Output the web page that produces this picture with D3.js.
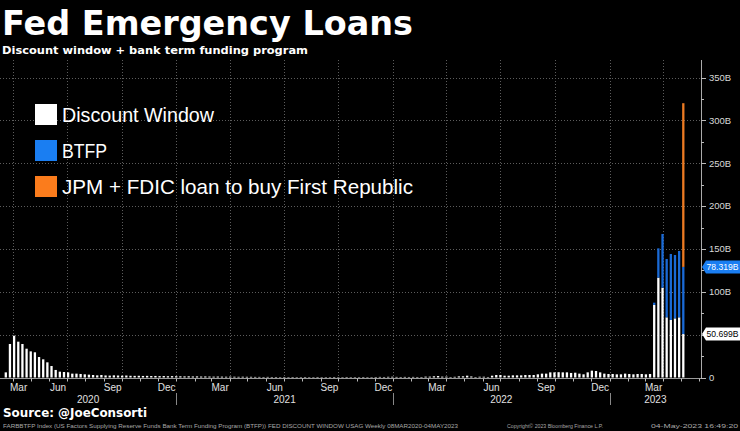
<!DOCTYPE html>
<html><head><meta charset="utf-8">
<script src="https://cdn.jsdelivr.net/npm/d3@7"></script>
<style>html,body{margin:0;padding:0;background:#000;} svg{display:block}</style>
</head><body><svg id="c" width="740" height="431"></svg>
<script>
// ---------- data ----------
const firstWeek = "2020-03-20"; // first weekly bar (weeks follow every 7 days)
const discountWindow = [
  6.0, 39.1, 48.8, 41.8, 39.1, 33.6, 30.5, 29.4, 23.9, 21.2, 17.7, 13.4, 8.8, 6.8, 6.4, 6.0, 4.5,
  4.5, 4.1, 3.7, 3.3, 2.9, 2.5, 2.9, 2.4, 2.2, 2.5, 2.3, 2.1, 2.3, 2.0,
  1.9, 2.0, 1.8, 1.9, 1.7, 1.8, 1.6, 1.7, 1.5, 1.6, 1.5,
  1.4, 1.3, 1.4, 1.2, 1.3, 1.1, 1.2, 1.1, 1.0, 1.1, 1.0, 0.9, 1.0, 0.9, 0.8, 0.9, 0.8, 0.8, 0.7,
  0.7, 0.6, 0.7, 0.6, 0.6, 0.5, 0.6, 0.5, 0.6, 0.5, 0.5, 0.6, 0.5, 0.5, 0.6, 0.5, 0.5, 0.5, 0.6, 0.5,
  0.5, 0.6, 0.5, 0.5, 0.5, 0.6, 0.5, 0.5, 0.6, 0.7, 0.6, 0.8, 0.9, 0.7, 0.6, 0.7, 0.6, 0.7, 0.6,
  0.6, 1.0, 1.0, 1.4, 1.7, 1.0, 1.0, 0.6, 0.8, 1.3, 1.4, 2.1, 1.2, 0.6, 0.9, 0.9, 0.6, 2.1, 2.9, 2.9,
  2.1, 2.1, 2.5, 2.5, 2.5, 2.9, 2.9, 2.9, 3.7, 4.5, 4.5, 6.0, 6.0, 6.2, 6.0, 6.0, 5.3, 5.6, 4.5, 3.7,
  6.0, 8.0, 7.6, 6.0, 4.5, 4.1, 4.1, 3.7, 3.7, 4.5, 4.1, 3.7, 4.1, 4.1, 3.7, 4.1,
  84.6, 116.5, 104.8, 70.2, 67.1, 69.0, 70.2, 50.699
];
const btfpWeeks = ["2023-03-17","2023-03-24","2023-03-31","2023-04-07","2023-04-14","2023-04-21","2023-04-28","2023-05-05"];
const btfp = [2.7, 34.2, 62.6, 68.1, 77.0, 73.9, 77.4, 78.319];
const frcWeeks = ["2023-05-05"];
const frcLoan = [191];
const yTicks = [0, 50, 100, 150, 200, 250, 300, 350];
const yTickLabels = ["0", "50B", "100B", "150B", "200B", "250B", "300B", "350B"];
const quarterMonths = ["Mar", "Jun", "Sep", "Dec"];
const years = [2020, 2021, 2022, 2023];
const legendLabels = ["Discount Window", "BTFP", "JPM + FDIC loan to buy First Republic"];
const colors = {dw: "#ffffff", btfp: "#1a6ad6", frc: "#ec7a22", legBtfp: "#1a7ef2", legFrc: "#fb7c1c"};

// ---------- setup ----------
const svg = d3.select("#c");
const W = 740, H = 431;
svg.append("rect").attr("width", W).attr("height", H).attr("fill", "#000");
const parse = d3.utcParse("%Y-%m-%d");
const plotL = 0, plotR = 701, plotT = 60, base = 377.5;

const x = d3.scaleUtc().domain([parse("2020-03-20"), parse("2023-05-05")]).range([5.8, 683.3]);
const y = d3.scaleLinear().domain([0, 350]).range([base, 77.5]);
const xStart = x.invert(plotL), xEnd = x.invert(plotR);

// ---------- grid ----------
const grid = svg.append("g").attr("stroke", "#5c5c5c").attr("stroke-dasharray", "1,2").attr("stroke-width", 1);
yTicks.filter(v => v > 0).forEach(v => {
  grid.append("line").attr("x1", plotL).attr("x2", plotR).attr("y1", Math.round(y(v)) + 0.5).attr("y2", Math.round(y(v)) + 0.5);
});
d3.utcMonth.range(xStart, xEnd).filter(d => d.getUTCMonth() % 3 === 0).forEach(d => {
  const xx = Math.round(x(d)) + 0.5;
  grid.append("line").attr("x1", xx).attr("x2", xx).attr("y1", plotT).attr("y2", base);
});

// ---------- bars ----------
const weeks = discountWindow.map((v, i) => d3.utcDay.offset(parse(firstWeek), 7 * i));
const bw = 2.3;
const gBars = svg.append("g");
gBars.selectAll("rect.dw").data(discountWindow).join("rect")
  .attr("x", (d, i) => x(weeks[i]) - bw / 2).attr("width", bw)
  .attr("y", d => y(d)).attr("height", d => base - y(d)).attr("fill", colors.dw);
const dwByDate = new Map(weeks.map((w, i) => [+w, discountWindow[i]]));
const btfpBase = btfpWeeks.map(s => dwByDate.get(+parse(s)) || 0);
gBars.selectAll("rect.bt").data(btfp).join("rect")
  .attr("x", (d, i) => x(parse(btfpWeeks[i])) - bw / 2).attr("width", bw)
  .attr("y", (d, i) => y(btfpBase[i] + d)).attr("height", (d, i) => y(btfpBase[i]) - y(btfpBase[i] + d))
  .attr("fill", colors.btfp);
const btByDate = new Map(btfpWeeks.map((s, i) => [+parse(s), btfp[i]]));
gBars.selectAll("rect.fr").data(frcLoan).join("rect")
  .attr("x", (d, i) => x(parse(frcWeeks[i])) - bw / 2).attr("width", bw)
  .attr("y", (d, i) => { const b = dwByDate.get(+parse(frcWeeks[i])) + btByDate.get(+parse(frcWeeks[i])); return y(b + d); })
  .attr("height", (d, i) => { const b = dwByDate.get(+parse(frcWeeks[i])) + btByDate.get(+parse(frcWeeks[i])); return y(b) - y(b + d); })
  .attr("fill", colors.frc);

// ---------- right axis ----------
const ax = svg.append("g");
ax.append("line").attr("x1", plotR + 0.5).attr("x2", plotR + 0.5).attr("y1", plotT).attr("y2", base + 1).attr("stroke", "#aaa");
d3.range(0, 351, 25).forEach(v => {
  const major = v % 50 === 0;
  ax.append("line").attr("x1", plotR).attr("x2", plotR + (major ? 5 : 3))
    .attr("y1", Math.round(y(v)) + 0.5).attr("y2", Math.round(y(v)) + 0.5).attr("stroke", "#bbb");
});
const lastI = btfp.length - 1;
const lastDw = discountWindow[discountWindow.length - 1];
const tagVals = [lastDw + btfp[lastI], lastDw];
yTicks.forEach((v, i) => {
  if (tagVals.some(t => Math.abs(y(t) - y(v)) < 11)) return; // hidden under a value tag
  ax.append("text").attr("x", plotR + 8).attr("y", y(v)).attr("dy", "0.35em")
    .attr("fill", "#d8d8d8").attr("font-family", "Liberation Sans, Arial, sans-serif").attr("font-size", 9.5)
    .text(yTickLabels[i]);
});

// last value tags
function tag(val, label, fill, txt) {
  const cy = y(val);
  ax.append("path").attr("d", `M${plotR + 1},${cy} L${plotR + 5},${cy - 6.5} L${W},${cy - 6.5} L${W},${cy + 6.5} L${plotR + 5},${cy + 6.5} Z`)
    .attr("fill", fill);
  ax.append("text").attr("x", plotR + 5.5).attr("y", cy).attr("dy", "0.36em").attr("fill", txt)
    .attr("font-family", "Liberation Sans, Arial, sans-serif").attr("font-size", 9)
    .attr("textLength", 32).attr("lengthAdjust", "spacingAndGlyphs").text(label);
}
tag(tagVals[0], d3.format(".3f")(btfp[lastI]) + "B", "#1a7ef2", "#fff");
tag(tagVals[1], d3.format(".3f")(lastDw) + "B", "#fff", "#000");

// ---------- bottom axis ----------
const bx = svg.append("g").attr("font-family", "Liberation Sans, Arial, sans-serif");
bx.append("line").attr("x1", plotL).attr("x2", plotR).attr("y1", base + 1).attr("y2", base + 1).attr("stroke", "#9a9a9a");
d3.utcMonth.range(d3.utcMonth.ceil(xStart), xEnd).forEach(d => {
  const xx = Math.round(x(d)) + 0.5;
  bx.append("line").attr("x1", xx).attr("x2", xx).attr("y1", base + 1).attr("y2", base + 4).attr("stroke", "#bbb");
});
d3.utcMonth.range(d3.utcMonth.floor(xStart), xEnd).filter(d => d.getUTCMonth() % 3 === 2).forEach(d => {
  let cx = x(d3.utcDay.offset(d, 15));
  if (cx > plotR - 12) return;
  const t = bx.append("text").attr("y", 391).attr("fill", "#e0e0e0").attr("font-size", 10)
    .text(quarterMonths[(d.getUTCMonth() - 2) / 3]);
  if (cx < 18) t.attr("x", 10).attr("text-anchor", "start");
  else t.attr("x", cx).attr("text-anchor", "middle");
});
years.forEach(yr => {
  const a = Math.max(plotL, x(Date.UTC(yr, 0, 1)));
  const b = Math.min(plotR, x(Date.UTC(yr + 1, 0, 1)));
  bx.append("text").attr("x", (a + b) / 2).attr("y", 403).attr("text-anchor", "middle")
    .attr("fill", "#e0e0e0").attr("font-size", 10).text(yr);
  if (yr > 2020) {
    const xx = Math.round(x(Date.UTC(yr, 0, 1))) + 0.5;
    bx.append("line").attr("x1", xx).attr("x2", xx).attr("y1", 393).attr("y2", 405).attr("stroke", "#888");
  }
});

// ---------- titles ----------
svg.append("text").attr("x", 2).attr("y", 35).attr("fill", "#fff")
  .attr("font-family", "DejaVu Sans, Verdana, sans-serif").attr("font-weight", "bold").attr("font-size", 34)
  .attr("textLength", 411).attr("lengthAdjust", "spacingAndGlyphs").text("Fed Emergency Loans");
svg.append("text").attr("x", 2).attr("y", 54).attr("fill", "#fff")
  .attr("font-family", "DejaVu Sans, Verdana, sans-serif").attr("font-weight", "bold").attr("font-size", 11)
  .attr("textLength", 306).attr("lengthAdjust", "spacingAndGlyphs").text("Discount window + bank term funding program");

// ---------- legend ----------
const legColors = [colors.dw, colors.legBtfp, colors.legFrc];
const legW = [152, 45, 351];
legendLabels.forEach((l, i) => {
  const ty = 104 + i * 36;
  svg.append("rect").attr("x", 35).attr("y", ty).attr("width", 22).attr("height", 21).attr("fill", legColors[i]);
  svg.append("text").attr("x", 62).attr("y", ty + 18).attr("fill", "#fff")
    .attr("font-family", "Liberation Sans, Arial, sans-serif").attr("font-size", 21)
    .attr("textLength", legW[i]).attr("lengthAdjust", "spacingAndGlyphs").text(l);
});

// ---------- footer ----------
svg.append("text").attr("x", 3).attr("y", 417).attr("fill", "#fff")
  .attr("font-family", "DejaVu Sans, Verdana, sans-serif").attr("font-weight", "bold").attr("font-size", 13)
  .attr("textLength", 144).attr("lengthAdjust", "spacingAndGlyphs").text("Source: @JoeConsorti");
const foot = svg.append("g").attr("fill", "#a8a8a8").attr("font-family", "Liberation Sans, Arial, sans-serif").attr("font-size", 6);
foot.append("text").attr("x", 3).attr("y", 428).attr("textLength", 455).attr("lengthAdjust", "spacingAndGlyphs")
  .text("FARBBTFP Index (US Factors Supplying Reserve Funds Bank Term Funding Program (BTFP)) FED DISCOUNT WINDOW USAG  Weekly 08MAR2020-04MAY2023");
foot.append("text").attr("x", 507).attr("y", 428).attr("textLength", 96).attr("lengthAdjust", "spacingAndGlyphs")
  .text("Copyright© 2023 Bloomberg Finance L.P.");
foot.append("text").attr("x", 651).attr("y", 428).attr("textLength", 87).attr("lengthAdjust", "spacingAndGlyphs")
  .text("04-May-2023 16:49:20");
</script>
</body></html>
